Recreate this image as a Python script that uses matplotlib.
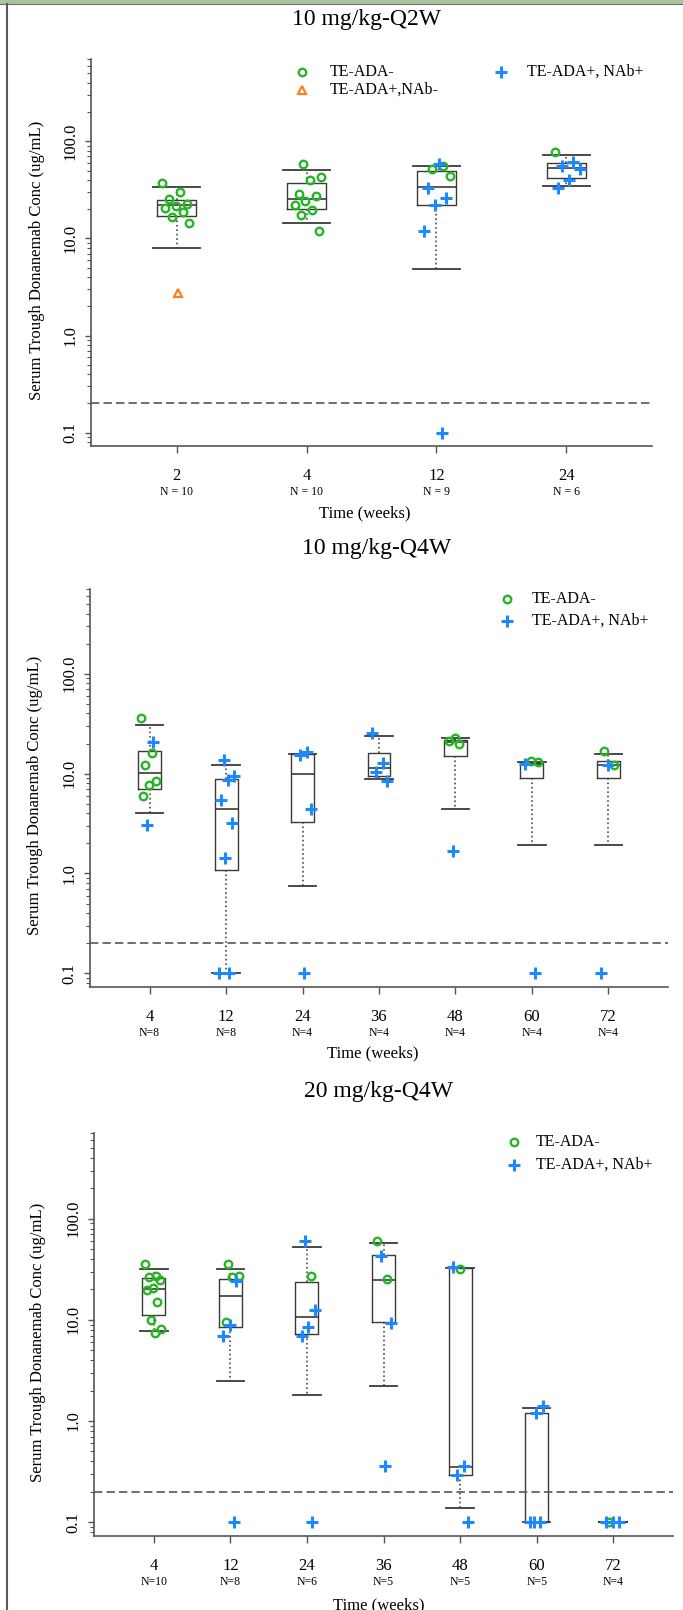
#!/usr/bin/env python
"""
Serum trough donanemab concentration by visit, three dosing regimens
"""
import matplotlib
matplotlib.use("Agg")
import matplotlib.pyplot as plt
import numpy as np
from matplotlib.lines import Line2D
from matplotlib.patches import Rectangle
from matplotlib.ticker import FixedLocator, LogLocator, NullFormatter

plt.rcParams['font.family'] = ['Liberation Serif', 'DejaVu Serif']
plt.rcParams['lines.scale_dashes'] = False

# ---- data -------------------------------------------------------------
Y_TICKS = [0.1, 1.0, 10.0, 100.0]
Y_TICKLABELS = ["0.1", "1.0", "10.0", "100.0"]
LLOQ = 0.2

# 10 mg/kg-Q2W
Q2W_WEEKS = [2, 4, 12, 24]
Q2W_N = [10, 10, 9, 6]
Q2W_WHISLO = [8.0, 14.4, 4.85, 34.8]
Q2W_Q1 = [17.2, 20.0, 22.1, 42.4]
Q2W_MED = [22.1, 25.3, 33.7, 52.9]
Q2W_Q3 = [24.9, 37.3, 49.3, 60.1]
Q2W_WHISHI = [33.7, 50.8, 55.9, 72.6]
Q2W_ADA_NEG = [[37.0, 30.0, 25.5, 22.5, 21.5, 20.5, 18.9, 16.8, 14.5],
               [57.8, 43.4, 40.1, 28.8, 27.4, 24.2, 22.3, 19.7, 17.6, 11.9],
               [56.0, 52.0, 44.5],
               [77.4]]
Q2W_NAB_NEG = [[2.74], [], [], []]
Q2W_NAB_POS = [[], [], [58.7, 33.2, 26.1, 22.1, 11.9, 0.1],
               [61.0, 56.4, 52.0, 40.4, 32.9]]

# 10 mg/kg-Q4W
Q4W10_WEEKS = [4, 12, 24, 36, 48, 60, 72]
Q4W10_N = [8, 8, 4, 4, 4, 4, 4]
Q4W10_WHISLO = [4.0, 0.1, 0.75, 8.8, 4.4, 1.92, 1.92]
Q4W10_Q1 = [7.0, 1.08, 3.3, 9.4, 15.0, 9.0, 9.0]
Q4W10_MED = [10.2, 4.4, 9.8, 11.4, 20.6, 12.5, 12.2]
Q4W10_Q3 = [17.0, 8.8, 15.7, 16.1, 21.5, 12.8, 13.5]
Q4W10_WHISHI = [30.8, 12.2, 15.7, 23.7, 22.6, 13.2, 15.7]
Q4W10_ADA_NEG = [[35.9, 16.0, 12.2, 8.5, 7.6, 5.9], [], [], [],
                 [22.8, 21.0, 19.8], [13.2, 13.5], [16.7, 12.2]]
Q4W10_NAB_POS = [[20.5, 3.07], [13.8, 9.4, 8.6, 5.5, 3.2, 1.44, 0.1, 0.1],
                 [16.4, 15.2, 4.4, 0.1], [25.6, 12.7, 10.4, 8.4],
                 [1.66], [12.4, 0.1], [12.3, 0.1]]

# 20 mg/kg-Q4W
Q4W20_WEEKS = [4, 12, 24, 36, 48, 60, 72]
Q4W20_N = [10, 8, 6, 5, 5, 5, 4]
Q4W20_WHISLO = [7.8, 2.51, 1.80, 2.22, 0.139, 0.1, 0.1]
Q4W20_Q1 = [11.2, 8.5, 7.3, 9.5, 0.29, 0.1, 0.1]
Q4W20_MED = [20.1, 17.1, 10.6, 25.0, 0.35, 0.1, 0.1]
Q4W20_Q3 = [26.1, 25.6, 23.6, 43.6, 32.7, 1.21, 0.1]
Q4W20_WHISHI = [31.7, 32.2, 52.5, 57.0, 32.7, 1.36, 0.1]
Q4W20_ADA_NEG = [[36.1, 27.4, 26.4, 25.0, 20.7, 19.6, 15.0, 9.9, 8.2, 7.4],
                 [35.6, 27.4, 26.4, 9.5], [27.4], [60.3, 25.2], [32.2], [],
                 [0.1]]
Q4W20_NAB_POS = [[], [24.0, 9.0, 7.0, 0.1], [60.3, 12.6, 8.5, 7.0, 0.1],
                 [42.8, 9.4, 0.36], [33.6, 0.36, 0.29, 0.1],
                 [1.42, 1.21, 0.1, 0.1, 0.1], [0.1, 0.1, 0.1]]

# ---- styles -----------------------------------------------------------
W, H = 683, 1610
GREEN = '#25b525'
BLUE = '#1e88ff'
ORANGE = '#ff7f1e'
EDGE = '#3a3a3a'
AXC = '#555555'

STY_NEG = dict(marker='o', ms=5.4, mew=1.7, mfc='none', mec=GREEN, ls='none')
STY_NABNEG = dict(marker='^', ms=6.0, mew=1.6, mfc='none', mec=ORANGE, ls='none')
STY_POS = dict(marker='+', ms=8.5, mew=2.2, mec=BLUE, ls='none')

panels = [
    dict(title="10 mg/kg-Q2W", weeks=Q2W_WEEKS, n=Q2W_N,
         stats=(Q2W_WHISLO, Q2W_Q1, Q2W_MED, Q2W_Q3, Q2W_WHISHI),
         series=[(Q2W_ADA_NEG, STY_NEG, "TE-ADA-"),
                 (Q2W_NAB_NEG, STY_NABNEG, "TE-ADA+,NAb-"),
                 (Q2W_NAB_POS, STY_POS, "TE-ADA+, NAb+")],
         nfmt="N = {}",
         box=(91, 59, 652, 446), title_xy=(366, 19), ylab_xy=(37, 260),
         time_xy=(365, 513),
         legend=[(302, 330, 72, 0), (302, 330, 90, 1), (501, 527, 72, 2)]),
    dict(title="10 mg/kg-Q4W", weeks=Q4W10_WEEKS, n=Q4W10_N,
         stats=(Q4W10_WHISLO, Q4W10_Q1, Q4W10_MED, Q4W10_Q3, Q4W10_WHISHI),
         series=[(Q4W10_ADA_NEG, STY_NEG, "TE-ADA-"),
                 (Q4W10_NAB_POS, STY_POS, "TE-ADA+, NAb+")],
         nfmt="N={}",
         box=(90, 589, 668, 987), title_xy=(377, 548), ylab_xy=(35, 795),
         time_xy=(373, 1053),
         legend=[(507, 532, 599, 0), (507, 532, 621, 1)]),
    dict(title="20 mg/kg-Q4W", weeks=Q4W20_WEEKS, n=Q4W20_N,
         stats=(Q4W20_WHISLO, Q4W20_Q1, Q4W20_MED, Q4W20_Q3, Q4W20_WHISHI),
         series=[(Q4W20_ADA_NEG, STY_NEG, "TE-ADA-"),
                 (Q4W20_NAB_POS, STY_POS, "TE-ADA+, NAb+")],
         nfmt="N={}",
         box=(94, 1133, 673, 1536), title_xy=(378, 1091), ylab_xy=(38, 1342),
         time_xy=(379, 1605),
         legend=[(514, 536, 1142, 0), (514, 536, 1165, 1)]),
]


def fx(x):
    return x / W


def fy(y):
    return 1 - y / H


fig = plt.figure(figsize=(W / 100, H / 100), dpi=100)

# frame of the page
fig.add_artist(Rectangle((0, fy(4)), 1, 4 / H, transform=fig.transFigure,
                         facecolor='#a9c3a1', edgecolor='none'))
fig.add_artist(Line2D([0, 1], [fy(4.5), fy(4.5)], transform=fig.transFigure,
                      color='#6e6e6e', lw=0.8))
fig.add_artist(Line2D([fx(6.5), fx(6.5)], [0, fy(4)], transform=fig.transFigure,
                      color='#5a5a5a', lw=1.5))

for p in panels:
    x0, y0, x1, y1 = p["box"]
    hpx = y1 - y0
    ax = fig.add_axes([fx(x0), fy(y1), (x1 - x0) / W, hpx / H])
    k = len(p["weeks"])
    pos = np.arange(1, k + 1)

    lo, q1, med, q3, hi = p["stats"]
    stats = [dict(whislo=lo[i], q1=q1[i], med=med[i], q3=q3[i], whishi=hi[i])
             for i in range(k)]
    ax.bxp(stats, positions=pos, widths=0.3, capwidths=0.36,
           showfliers=False, manage_ticks=False,
           boxprops=dict(color=EDGE, lw=1.0),
           whiskerprops=dict(color=EDGE, lw=1.1, linestyle=(0, (1.2, 2.0))),
           capprops=dict(color=EDGE, lw=1.3),
           medianprops=dict(color=EDGE, lw=1.2))

    # individual subjects, spread a little around the visit
    for g in range(k):
        j = 0
        for vals, sty, _ in p["series"]:
            xs = []
            for _v in vals[g]:
                xs.append(pos[g] + 0.11 * (((j * 0.618 + g * 0.37) % 1) * 2 - 1))
                j += 1
            if vals[g]:
                ax.plot(xs, vals[g], zorder=3, **sty)

    ax.axhline(LLOQ, color=AXC, lw=1.2, ls=(0, (6, 3)))

    ax.set_yscale('log')
    ax.set_ylim(0.073, 705)
    ax.set_xlim(0.5 - 0.04 * k, k + 0.5 + 0.04 * k)
    ax.yaxis.set_major_locator(FixedLocator(Y_TICKS))
    ax.set_yticklabels(Y_TICKLABELS, rotation=90, va='center', fontsize=12)
    ax.yaxis.set_minor_locator(LogLocator(base=10, subs=np.arange(2, 10)))
    ax.yaxis.set_minor_formatter(NullFormatter())
    ax.tick_params(axis='y', which='major', length=4.3, width=1, color=AXC, pad=5)
    ax.tick_params(axis='y', which='minor', length=3, width=0.8, color=AXC)
    ax.set_xticks(pos)
    ax.set_xticklabels([])
    ax.tick_params(axis='x', length=5, width=1, color=AXC)
    for s in ('top', 'right'):
        ax.spines[s].set_visible(False)
    for s in ('left', 'bottom'):
        ax.spines[s].set_color(AXC)
        ax.spines[s].set_linewidth(1.2)

    tr = ax.get_xaxis_transform()
    for i in range(k):
        ax.text(pos[i], -30 / hpx, str(p["weeks"][i]), transform=tr,
                ha='center', va='center', fontsize=12)
        ax.text(pos[i], -46 / hpx, p["nfmt"].format(p["n"][i]), transform=tr,
                ha='center', va='center', fontsize=8.5)

    tx, ty = p["title_xy"]
    fig.text(fx(tx), fy(ty), p["title"], ha='center', va='center', fontsize=17)
    lx, ly = p["ylab_xy"]
    fig.text(fx(lx), fy(ly), "Serum Trough Donanemab Conc (ug/mL)", rotation=90,
             ha='center', va='center', fontsize=12)
    sx, sy = p["time_xy"]
    fig.text(fx(sx), fy(sy), "Time (weeks)", ha='center', va='center',
             fontsize=12)

    # legend
    for mx, tx_, ly_, si in p["legend"]:
        _, sty, label = p["series"][si]
        fig.add_artist(Line2D([fx(mx)], [fy(ly_)], transform=fig.transFigure, **sty))
        fig.text(fx(tx_), fy(ly_), label, ha='left', va='center', fontsize=11.5)

fig.savefig("out.png", dpi=100)
